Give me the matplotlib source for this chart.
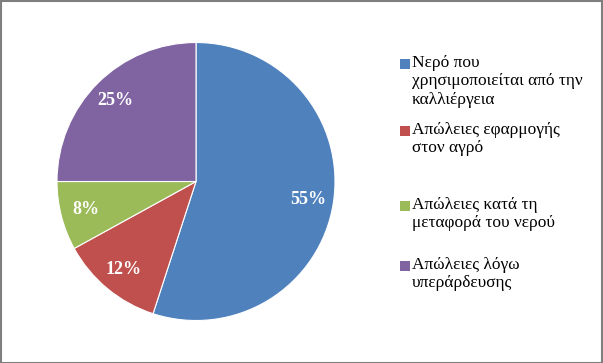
import matplotlib
matplotlib.use("Agg")
import matplotlib.pyplot as plt
from matplotlib.patches import Rectangle

# data
labels = [
    "Νερό που\nχρησιμοποιείται από την\nκαλλιέργεια",
    "Απώλειες εφαρμογής\nστον αγρό",
    "Απώλειες κατά τη\nμεταφορά του νερού",
    "Απώλειες λόγω\nυπεράρδευσης",
]
values = [55, 12, 8, 25]
colors = ["#4F81BD", "#C0504D", "#9BBB59", "#8064A2"]

plt.rcParams['font.family'] = ['Liberation Serif', 'DejaVu Serif']

W, H = 603, 363
fig = plt.figure(figsize=(W / 100, H / 100), dpi=100)

# pie axes: center (196, 181.5) px, radius 139 px
r = 139
cx, cy = 196, H - 181.5
ax = fig.add_axes([(cx - r) / W, (cy - r) / H, 2 * r / W, 2 * r / H])
wedges, texts, autotexts = ax.pie(
    values, colors=colors, startangle=90, counterclock=False,
    autopct='%1.0f%%', pctdistance=0.82,
    wedgeprops=dict(edgecolor='white', linewidth=0.8),
    textprops=dict(color='white', fontsize=13, fontweight='bold'))
ax.set_xlim(-1, 1)
ax.set_ylim(-1, 1)
ax.set_aspect('equal')

# legend drawn by hand so the marker sits on the first line
first_line_y = [64, 131, 206, 266]
for lab, col, y in zip(labels, colors, first_line_y):
    fig.patches.append(Rectangle((400 / W, (H - y - 5) / H), 10 / W, 10 / H,
                                 transform=fig.transFigure, facecolor=col,
                                 edgecolor='none'))
    fig.text(412 / W, (H - y + 9) / H, lab, fontsize=12.5, va='top', ha='left',
             linespacing=1.2)

# outer frame
fig.patches.append(Rectangle((0.5 / W, 0.5 / H), (W - 1.5) / W, (H - 1.5) / H,
                             transform=fig.transFigure, fill=False,
                             edgecolor='#7f7f7f', linewidth=1.5))

fig.savefig("out.png", dpi=100)
